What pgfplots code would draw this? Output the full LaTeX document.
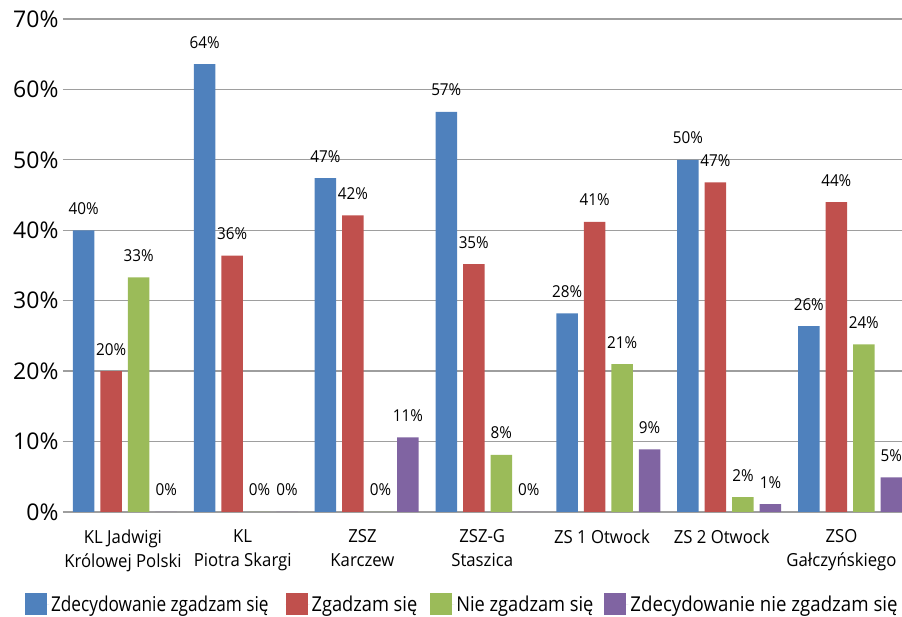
\documentclass[border=0pt]{standalone}
\usepackage{fontspec}
\setmainfont{Open Sans}
\newfontfamily\cond[FakeStretch=0.93]{Open Sans}
\newfontfamily\condA[FakeStretch=0.84]{Open Sans}
\newfontfamily\condB[FakeStretch=0.89]{Open Sans}
\newfontfamily\condC[FakeStretch=0.91]{Open Sans}
\usepackage{pgfplots}
\pgfplotsset{compat=1.18}

\definecolor{cblue}{HTML}{4F81BD}
\definecolor{cred}{HTML}{C0504D}
\definecolor{cgreen}{HTML}{9BBB59}
\definecolor{cpurple}{HTML}{8064A2}

\begin{document}
\begin{tikzpicture}
  \useasboundingbox (-63pt,-105pt) rectangle (839pt,512pt);
  \begin{axis}[
    at={(0pt,0pt)}, anchor=south west,
    scale only axis,
    width=839pt, height=493pt,
    ybar=6pt, bar width=21.5pt,
    xmin=-0.513, xmax=6.43,
    ymin=0, ymax=70,
    ytick={0,10,...,70},
    yticklabel={\pgfmathprintnumber{\tick}\%},
    y tick label style={font=\fontsize{23}{23}\selectfont, /pgf/number format/assume math mode=true, xshift=-1pt},
    xtick={-0.017,0.974,1.965,2.956,3.947,4.938,5.929},
    xticklabels={{KL Jadwigi\\Królowej Polski},{KL\\Piotra Skargi},{ZSZ\\Karczew},{ZSZ-G\\Staszica},{ZS 1 Otwock},{ZS 2 Otwock},{ZSO\\Gałczyńskiego}},
    x tick label style={font=\cond\fontsize{18}{24}\selectfont, align=center, anchor=north, yshift=-14pt},
    major tick length=0pt,
    axis line style={draw=none},
    ymajorgrids,
    major grid style={draw=black!38, line width=1.3pt},
    nodes near coords={\pgfmathprintnumber[fixed,precision=0]{\pgfplotspointmeta}\%},
    every node near coord/.append style={font=\cond\fontsize{16.4}{16.4}\selectfont, anchor=base, yshift=16pt, /pgf/number format/assume math mode=true},
    legend columns=4,
    legend style={at={(-0.049,-0.187)}, anchor=west, draw=none, fill=none,
      font=\fontsize{20.5}{20.5}\selectfont,
      /tikz/column 2/.style={column sep=15pt},
      /tikz/column 4/.style={column sep=11pt},
      /tikz/column 6/.style={column sep=9pt}},
    legend image code/.code={\fill[#1,draw=none] (0pt,-10pt) rectangle (22pt,12pt); \path (0pt,0pt) -- (24pt,0pt);},
  ]
    \addplot[fill=cblue, draw=none] coordinates {(0,40) (1,63.6) (2,47.4) (3,56.8) (4,28.2) (5,50) (6,26.4)};
    \addplot[fill=cred, draw=none] coordinates {(0,20) (1,36.4) (2,42.1) (3,35.2) (4,41.2) (5,46.8) (6,44)};
    \addplot[fill=cgreen, draw=none] coordinates {(0,33.3) (1,0) (2,0) (3,8.1) (4,21) (5,2.1) (6,23.8)};
    \addplot[fill=cpurple, draw=none] coordinates {(0,0) (1,0) (2,10.6) (3,0) (4,8.9) (5,1.1) (6,4.9)};
    \legend{{\condA Zdecydowanie zgadzam się}, {\condB Zgadzam się}, {\condB Nie zgadzam się}, {\condC Zdecydowanie nie zgadzam się}}
  \end{axis}
\end{tikzpicture}
\end{document}
